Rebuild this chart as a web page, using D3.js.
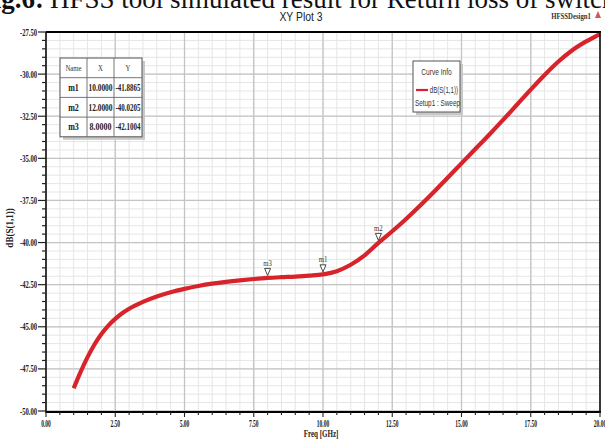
<!DOCTYPE html>
<html>
<head>
<meta charset="utf-8">
<script src="https://cdn.jsdelivr.net/npm/d3@7/dist/d3.min.js"></script>
<style>
  html, body { margin: 0; padding: 0; background: #fff; }
  svg { display: block; }
</style>
</head>
<body>
<script>
// Datos (HFSS XY Plot 3, dB(S(1,1)))
const freq = [1.0, 1.25, 1.5, 1.75, 2.0, 2.25, 2.5, 2.75, 3.0, 3.5, 4.0, 4.5, 5.0, 5.5, 6.0, 6.5, 7.0, 7.5,
  8.0, 8.5, 9.0, 9.5, 10.0, 10.5, 11.0, 11.5, 12.0, 12.5, 13.0, 13.5, 14.0, 14.5, 15.0,
  15.5, 16.0, 16.5, 17.0, 17.5, 18.0, 18.5, 19.0, 19.5, 20.0];
const s11 = [-48.65, -47.68, -46.80, -46.05, -45.43, -44.93, -44.53, -44.20, -43.93, -43.52, -43.20,
  -42.95, -42.75, -42.58, -42.44, -42.33, -42.24, -42.165, -42.10, -42.055, -42.018, -41.963, -41.886,
  -41.70, -41.32, -40.76, -40.02, -39.33, -38.60, -37.82, -37.00, -36.15, -35.30, -34.45, -33.60,
  -32.72, -31.82, -30.92, -30.05, -29.25, -28.58, -28.06, -27.62];

const markerNames = ['m1', 'm2', 'm3'];
const markerX = [10.0, 12.0, 8.0];
const markerY = [-41.8865, -40.0205, -42.1004];

const xTicks = [0, 2.5, 5, 7.5, 10, 12.5, 15, 17.5, 20];
const xTickLabels = ['0.00', '2.50', '5.00', '7.50', '10.00', '12.50', '15.00', '17.50', '20.00'];
const yTicks = [-27.5, -30, -32.5, -35, -37.5, -40, -42.5, -45, -47.5, -50];
const yTickLabels = ['-27.50', '-30.00', '-32.50', '-35.00', '-37.50', '-40.00', '-42.50', '-45.00', '-47.50', '-50.00'];

const width = 605;
const height = 447;
const plot = { left: 46, right: 600, top: 32, bottom: 411 };

const svg = d3.select('body').append('svg')
  .attr('width', width)
  .attr('height', height);

const x = d3.scaleLinear().domain([0, 20]).range([plot.left, plot.right]);
const y = d3.scaleLinear().domain([-50, -27.5]).range([plot.bottom, plot.top]);

// texto condensado (fuente estrecha del original)
function squeeze(sel, k) {
  sel.each(function () {
    const w = this.getComputedTextLength();
    d3.select(this).attr('textLength', w * k).attr('lengthAdjust', 'spacingAndGlyphs');
  });
  return sel;
}

// Pie de figura cortado arriba
svg.append('text')
  .attr('x', 44).attr('y', 7.5)
  .attr('text-anchor', 'end')
  .style('font-family', 'Liberation Serif, serif')
  .style('font-size', '27px')
  .style('font-weight', 'bold')
  .attr('fill', '#111')
  .text('Fig.6:');
svg.append('text')
  .attr('x', 50).attr('y', 7.5)
  .style('font-family', 'Liberation Serif, serif')
  .style('font-size', '27px')
  .attr('fill', '#111')
  .text('HFSS tool simulated result for Return loss of switch');

// Título
svg.append('text')
  .attr('x', 301).attr('y', 21)
  .attr('text-anchor', 'middle')
  .style('font-family', 'Liberation Sans, Arial, sans-serif')
  .style('font-size', '13px')
  .attr('fill', '#222')
  .text('XY Plot 3')
  .call(squeeze, 0.8);

squeeze(svg.append('text')
  .attr('x', 591).attr('y', 19)
  .attr('text-anchor', 'end')
  .style('font-family', 'Liberation Serif, serif')
  .style('font-size', '9px')
  .style('font-weight', 'bold')
  .attr('fill', '#333')
  .text('HFSSDesign1'), 0.75);

svg.append('path')
  .attr('d', 'M598,11 L601,18 L595,18 Z')
  .attr('fill', '#d9534f');

// Rejilla
const grid = svg.append('g');
const minorX = d3.range(0, 20.01, 0.5);
const minorY = d3.range(-50, -27.49, 0.5);

grid.selectAll('.vmin').data(minorX).enter().append('line')
  .attr('x1', d => x(d)).attr('x2', d => x(d))
  .attr('y1', plot.top).attr('y2', plot.bottom)
  .attr('stroke', '#e6e6e6').attr('stroke-width', 1);
grid.selectAll('.hmin').data(minorY).enter().append('line')
  .attr('y1', d => y(d)).attr('y2', d => y(d))
  .attr('x1', plot.left).attr('x2', plot.right)
  .attr('stroke', '#e6e6e6').attr('stroke-width', 1);
grid.selectAll('.vmaj').data(xTicks).enter().append('line')
  .attr('x1', d => x(d)).attr('x2', d => x(d))
  .attr('y1', plot.top).attr('y2', plot.bottom)
  .attr('stroke', '#c4c4c4').attr('stroke-width', 1.3);
grid.selectAll('.hmaj').data(yTicks).enter().append('line')
  .attr('y1', d => y(d)).attr('y2', d => y(d))
  .attr('x1', plot.left).attr('x2', plot.right)
  .attr('stroke', '#c4c4c4').attr('stroke-width', 1.3);

// Curva
const line = d3.line()
  .x((d, i) => x(freq[i]))
  .y(d => y(d))
  .curve(d3.curveMonotoneX);

svg.append('path')
  .datum(s11)
  .attr('d', line)
  .attr('fill', 'none')
  .attr('stroke', '#d8232a')
  .attr('stroke-width', 4.2)
  .attr('stroke-linecap', 'butt');

// Marco
svg.append('line').attr('x1', plot.left).attr('x2', plot.right + 1)
  .attr('y1', plot.top).attr('y2', plot.top).attr('stroke', '#000').attr('stroke-width', 2);
svg.append('line').attr('x1', plot.left).attr('x2', plot.right + 1)
  .attr('y1', plot.bottom + 1).attr('y2', plot.bottom + 1).attr('stroke', '#000').attr('stroke-width', 2.2);
svg.append('line').attr('x1', plot.left).attr('x2', plot.left)
  .attr('y1', plot.top).attr('y2', plot.bottom + 2).attr('stroke', '#111').attr('stroke-width', 1.6);
svg.append('line').attr('x1', plot.right).attr('x2', plot.right)
  .attr('y1', plot.top).attr('y2', plot.bottom + 2).attr('stroke', '#111').attr('stroke-width', 1.6);

// Ticks eje Y
const yAxis = svg.append('g');
yAxis.selectAll('.ymt').data(minorY).enter().append('line')
  .attr('x1', d => (Math.abs((d / 2.5) - Math.round(d / 2.5)) < 1e-6 ? plot.left - 8 : plot.left - 4))
  .attr('x2', plot.left)
  .attr('y1', d => y(d)).attr('y2', d => y(d))
  .attr('stroke', '#222').attr('stroke-width', 1.2);
yAxis.selectAll('.ylab').data(yTicks).enter().append('text')
  .attr('x', 37)
  .attr('y', d => y(d) + 3.5)
  .attr('text-anchor', 'end')
  .style('font-family', 'Liberation Serif, serif')
  .style('font-size', '10px')
  .style('font-weight', 'bold')
  .attr('fill', '#222')
  .text((d, i) => yTickLabels[i])
  .call(squeeze, 0.66);

// Ticks eje X
const xAxis = svg.append('g');
xAxis.selectAll('.xmt').data(minorX).enter().append('line')
  .attr('x1', d => x(d)).attr('x2', d => x(d))
  .attr('y1', plot.bottom + 1)
  .attr('y2', d => (Math.abs((d / 2.5) - Math.round(d / 2.5)) < 1e-6 ? plot.bottom + 6 : plot.bottom + 4))
  .attr('stroke', '#222').attr('stroke-width', 1.1);
xAxis.selectAll('.xlab').data(xTicks).enter().append('text')
  .attr('x', d => x(d))
  .attr('y', 427)
  .attr('text-anchor', 'middle')
  .style('font-family', 'Liberation Serif, serif')
  .style('font-size', '10px')
  .style('font-weight', 'bold')
  .attr('fill', '#222')
  .text((d, i) => xTickLabels[i])
  .call(squeeze, 0.55);

squeeze(svg.append('text')
  .attr('x', 321).attr('y', 437)
  .attr('text-anchor', 'middle')
  .style('font-family', 'Liberation Serif, serif')
  .style('font-size', '10px')
  .style('font-weight', 'bold')
  .attr('fill', '#222')
  .text('Freq [GHz]'), 0.7);

squeeze(svg.append('text')
  .attr('transform', 'translate(13,228) rotate(-90)')
  .attr('text-anchor', 'middle')
  .style('font-family', 'Liberation Serif, serif')
  .style('font-size', '10px')
  .style('font-weight', 'bold')
  .attr('fill', '#222')
  .text('dB(S(1,1))'), 0.9);

// Marcadores
const mk = svg.append('g');
markerNames.forEach((name, i) => {
  const px = x(markerX[i]);
  const py = y(markerY[i]) - 2.5;
  mk.append('path')
    .attr('d', `M${px},${py} L${px - 3},${py - 7} L${px + 3},${py - 7} Z`)
    .attr('fill', '#fff')
    .attr('stroke', '#333')
    .attr('stroke-width', 0.9);
  squeeze(mk.append('text')
    .attr('x', px).attr('y', py - 9.5)
    .attr('text-anchor', 'middle')
    .style('font-family', 'Liberation Serif, serif')
    .style('font-size', '9px')
    .attr('fill', '#333')
    .text(name), 0.75);
});

// Tabla de marcadores
const tbl = { x: 60, y: 58, colW: [27, 27, 28], rowH: 19.7 };
const tW = d3.sum(tbl.colW);
const tH = tbl.rowH * 4;
const tg = svg.append('g');
tg.append('rect').attr('x', tbl.x + 3).attr('y', tbl.y + 3).attr('width', tW).attr('height', tH)
  .attr('fill', '#c8c8c8');
tg.append('rect').attr('x', tbl.x).attr('y', tbl.y).attr('width', tW).attr('height', tH)
  .attr('fill', '#fff').attr('stroke', '#555').attr('stroke-width', 1);
for (let r = 1; r < 4; r++) {
  tg.append('line').attr('x1', tbl.x).attr('x2', tbl.x + tW)
    .attr('y1', tbl.y + r * tbl.rowH).attr('y2', tbl.y + r * tbl.rowH)
    .attr('stroke', '#666').attr('stroke-width', 0.9);
}
let cx = tbl.x;
tbl.colW.slice(0, 2).forEach(w => {
  cx += w;
  tg.append('line').attr('x1', cx).attr('x2', cx)
    .attr('y1', tbl.y).attr('y2', tbl.y + tH)
    .attr('stroke', '#666').attr('stroke-width', 0.9);
});
const header = ['Name', 'X', 'Y'];
const rows = markerNames.map((n, i) => [n, markerX[i].toFixed(4), markerY[i].toFixed(4)]);
const colCenter = k => tbl.x + d3.sum(tbl.colW.slice(0, k)) + tbl.colW[k] / 2;
header.forEach((h, k) => {
  squeeze(tg.append('text')
    .attr('x', colCenter(k)).attr('y', tbl.y + tbl.rowH / 2 + 3)
    .attr('text-anchor', 'middle')
    .style('font-family', 'Liberation Serif, serif')
    .style('font-size', '9px')
    .attr('fill', '#333')
    .text(h), 0.75);
});
rows.forEach((row, r) => {
  row.forEach((v, k) => {
    const t = tg.append('text')
      .attr('x', colCenter(k)).attr('y', tbl.y + (r + 1.5) * tbl.rowH + 3.5)
      .attr('text-anchor', 'middle')
      .style('font-family', 'Liberation Serif, serif')
      .style('font-size', '10px')
      .style('font-weight', 'bold')
      .attr('fill', '#222')
      .text(v);
    const w = t.node().getComputedTextLength();
    const maxW = tbl.colW[k] - 3;
    t.attr('textLength', Math.min(w * 0.8, maxW)).attr('lengthAdjust', 'spacingAndGlyphs');
  });
});

// Caja "Curve Info"
const ci = { x: 413, y: 61, w: 47, h: 51 };
const cg = svg.append('g');
cg.append('rect').attr('x', ci.x + 3).attr('y', ci.y + 3).attr('width', ci.w).attr('height', ci.h)
  .attr('fill', '#c8c8c8');
cg.append('rect').attr('x', ci.x).attr('y', ci.y).attr('width', ci.w).attr('height', ci.h)
  .attr('fill', '#fff').attr('stroke', '#555').attr('stroke-width', 1);
squeeze(cg.append('text')
  .attr('x', ci.x + ci.w / 2).attr('y', ci.y + 14)
  .attr('text-anchor', 'middle')
  .style('font-family', 'Liberation Sans, Arial, sans-serif')
  .style('font-size', '8.5px')
  .attr('fill', '#333')
  .text('Curve Info'), 0.78);
cg.append('line')
  .attr('x1', ci.x + 3).attr('x2', ci.x + 15)
  .attr('y1', ci.y + 29).attr('y2', ci.y + 29)
  .attr('stroke', '#d8232a').attr('stroke-width', 2.2);
squeeze(cg.append('text')
  .attr('x', ci.x + ci.w - 2).attr('y', ci.y + 32)
  .attr('text-anchor', 'end')
  .style('font-family', 'Liberation Sans, Arial, sans-serif')
  .style('font-size', '8.5px')
  .attr('fill', '#333')
  .text('dB(S(1,1))'), 0.72);
squeeze(cg.append('text')
  .attr('x', ci.x + 2).attr('y', ci.y + 45)
  .style('font-family', 'Liberation Sans, Arial, sans-serif')
  .style('font-size', '8.5px')
  .attr('fill', '#333')
  .text('Setup1 : Sweep'), 0.75);
</script>
</body>
</html>
